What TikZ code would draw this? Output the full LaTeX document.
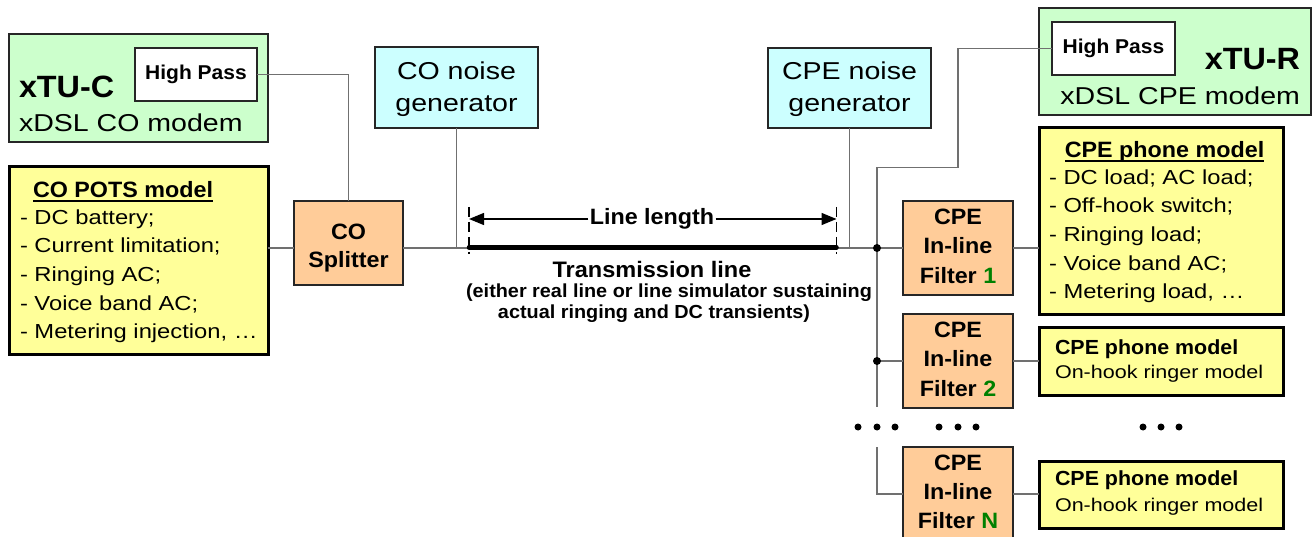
\documentclass[tikz,border=0pt]{standalone}
\usepackage{fontspec}
\newfontfamily\rgf{Liberation Sans}[FakeStretch=1.17]
\newfontfamily\bdf{Liberation Sans}[FakeStretch=1.05]
\newcommand{\fR}[1]{\rgf\fontsize{#1}{#1}\selectfont}
\newcommand{\fB}[1]{\bdf\bfseries\fontsize{#1}{#1}\selectfont}
\usetikzlibrary{arrows.meta}
\definecolor{gfill}{HTML}{CCFFCC}
\definecolor{cfill}{HTML}{CCFFFF}
\definecolor{ofill}{HTML}{FFCC99}
\definecolor{yfill}{HTML}{FFFF99}
\definecolor{wire}{HTML}{707070}
\definecolor{dgreen}{HTML}{008000}
\tikzset{
  thinbox/.style={draw=black!85, line width=1.3pt, inner sep=0pt, outer sep=0pt},
  gbox/.style={thinbox, fill=gfill},
  cbox/.style={thinbox, fill=cfill},
  obox/.style={thinbox, fill=ofill},
  wbox/.style={thinbox, fill=white},
  ybox/.style={draw=black, line width=3pt, fill=yfill, inner sep=0pt, outer sep=0pt},
  txt/.style={inner sep=0pt, outer sep=0pt},
  wireline/.style={draw=wire, line width=1.3pt},
  jdot/.style={circle, fill=black, inner sep=0pt, minimum size=8pt},
  edot/.style={circle, fill=black, inner sep=0pt, minimum size=7pt},
  arr/.style={line width=1.3pt, -{Triangle[length=15pt,width=12pt]}},
  tick/.style={line width=1.3pt, dash pattern=on 10pt off 5pt},
}
\begin{document}
\begin{tikzpicture}[x=1pt,y=-1pt]
\useasboundingbox (0,0) rectangle (1316,537);

% ---------- boxes ----------
\node[gbox, minimum width=259pt, minimum height=108pt] (xtuc) at (138.5,88) {};
\node[wbox, minimum width=122pt, minimum height=53pt] (hpC) at (196,74.5) {\fB{20}High Pass};
\node[txt, anchor=base west] (xtuct) at (19,98) {\fB{30.8}xTU-C};
\node[txt, anchor=base west] (xtucs) at (19,132) {\fR{24.4}xDSL CO modem};

\node[ybox, minimum width=259pt, minimum height=187pt] (pots) at (138.5,260.5) {};
\node[txt, anchor=base west] (potst) at (33,198) {\fB{22.2}CO POTS model};
\draw[line width=1.8pt] ([yshift=-3pt]potst.base west) -- ([yshift=-3pt]potst.base east);
\node[txt, anchor=base west] (pots1) at (20,225) {\fR{20.3}- DC battery;};
\node[txt, anchor=base west] (pots2) at (20,253) {\fR{20.3}- Current limitation;};
\node[txt, anchor=base west] (pots3) at (20,281.5) {\fR{20.3}- Ringing AC;};
\node[txt, anchor=base west] (pots4) at (20,310) {\fR{20.3}- Voice band AC;};
\node[txt, anchor=base west] (pots5) at (20,338) {\fR{20.3}- Metering injection, \dots};

\node[obox, minimum width=109pt, minimum height=84pt] (split) at (348.5,243) {};
\node[txt, anchor=base] (splitt1) at (348.5,240) {\fB{22.2}CO};
\node[txt, anchor=base] (splitt2) at (348.5,268) {\fB{22.2}Splitter};

\node[cbox, minimum width=163pt, minimum height=81pt] (conoise) at (456.5,87.5) {};
\node[txt, anchor=base] (conoise1) at (456.5,80) {\fR{24.4}CO noise};
\node[txt, anchor=base] (conoise2) at (456.5,112) {\fR{24.4}generator};

\node[cbox, minimum width=163pt, minimum height=80pt] (cpenoise) at (849.5,88) {};
\node[txt, anchor=base] (cpenoise1) at (849.5,79.5) {\fR{24.4}CPE noise};
\node[txt, anchor=base] (cpenoise2) at (849.5,112) {\fR{24.4}generator};

\node[gbox, minimum width=272pt, minimum height=107pt] (xtur) at (1175,61.5) {};
\node[wbox, minimum width=123pt, minimum height=53pt] (hpR) at (1113.5,48.5) {\fB{20}High Pass};
\node[txt, anchor=base east] (xturt) at (1300,70) {\fB{30.8}xTU-R};
\node[txt, anchor=base east] (xturs) at (1300,105) {\fR{24.4}xDSL CPE modem};

% filters
\node[obox, minimum width=110pt, minimum height=94pt] (f1) at (958,248) {};
\node[txt, anchor=base] (f1a) at (958,225) {\fB{22.2}CPE};
\node[txt, anchor=base] (f1b) at (958,253.5) {\fB{22.2}In-line};
\node[txt, anchor=base] (f1c) at (958,283) {\fB{22.2}Filter \textcolor{dgreen}{1}};

\node[obox, minimum width=110pt, minimum height=94pt] (f2) at (958,361) {};
\node[txt, anchor=base] (f2a) at (958,337.5) {\fB{22.2}CPE};
\node[txt, anchor=base] (f2b) at (958,366) {\fB{22.2}In-line};
\node[txt, anchor=base] (f2c) at (958,396) {\fB{22.2}Filter \textcolor{dgreen}{2}};

\node[obox, minimum width=110pt, minimum height=94pt] (fN) at (958,494) {};
\node[txt, anchor=base] (fNa) at (958,470) {\fB{22.2}CPE};
\node[txt, anchor=base] (fNb) at (958,499) {\fB{22.2}In-line};
\node[txt, anchor=base] (fNc) at (958,528) {\fB{22.2}Filter \textcolor{dgreen}{N}};

% phone models
\node[ybox, minimum width=244pt, minimum height=186pt] (ph1) at (1161,221) {};
\node[txt, anchor=base] (ph1t) at (1164.5,158) {\fB{22.2}CPE phone model};
\draw[line width=1.8pt] ([yshift=-3pt]ph1t.base west) -- ([yshift=-3pt]ph1t.base east);
\node[txt, anchor=base west] (ph1a) at (1049,185) {\fR{20.3}- DC load; AC load;};
\node[txt, anchor=base west] (ph1b) at (1049,213) {\fR{20.3}- Off-hook switch;};
\node[txt, anchor=base west] (ph1c) at (1049,241.5) {\fR{20.3}- Ringing load;};
\node[txt, anchor=base west] (ph1d) at (1049,270) {\fR{20.3}- Voice band AC;};
\node[txt, anchor=base west] (ph1e) at (1049,298) {\fR{20.3}- Metering load, \dots};

\node[ybox, minimum width=244pt, minimum height=68pt] (ph2) at (1161,361) {};
\node[txt, anchor=base west] (ph2a) at (1055,354) {\fB{20.4}CPE phone model};
\node[txt, anchor=base west] (ph2b) at (1055,378) {\fR{18.4}On-hook ringer model};

\node[ybox, minimum width=244pt, minimum height=67pt] (phN) at (1161,494.5) {};
\node[txt, anchor=base west] (phNa) at (1055,485) {\fB{20.4}CPE phone model};
\node[txt, anchor=base west] (phNb) at (1055,511) {\fR{18.4}On-hook ringer model};

% ---------- coordinates ----------
\coordinate (mainy) at (0,248);
\coordinate (kinkA) at (958,167.5);
\coordinate (busTop) at (877,167.5);
\coordinate (busBot) at (877,407);
\coordinate (busN) at (877,447);
\coordinate (tlL) at (469,247.5);
\coordinate (tlR) at (836.5,247.5);
\coordinate (tkLt) at (469,207);
\coordinate (tkLb) at (469,254);
\coordinate (tkRt) at (836.5,207);
\coordinate (tkRb) at (836.5,254);
\coordinate (arL) at (469,219);
\coordinate (arR) at (836.5,219);

% ---------- wires ----------
\draw[wireline] (hpC.east) -| (split.north);
\draw[wireline] (pots.east |- mainy) -- (split.west |- mainy);
\draw[wireline] (split.east |- mainy) -- (f1.west);
\draw[wireline] (conoise.south) -- (conoise.south |- mainy);
\draw[wireline] (cpenoise.south) -- (cpenoise.south |- mainy);
\draw[wireline] (hpR.west) -| (kinkA) -- (busTop) -- (busBot);
\draw[wireline] (busTop |- f2.west) -- (f2.west);
\draw[wireline] (busN) |- (fN.west);
\draw[wireline] (f1.east) -- (f1.east -| ph1.west);
\draw[wireline] (f2.east) -- (ph2.west);
\draw[wireline] (fN.east) -- (fN.east -| phN.west);

\node[jdot] (j1) at (busTop |- mainy) {};
\node[jdot] (j2) at (busTop |- f2.west) {};

% ---------- transmission line ----------
\draw[line width=4.5pt, line cap=round] (tlL) -- (tlR);
\draw[tick] (tkLt) -- (tkLb);
\draw[tick] (tkRt) -- (tkRb);
\node[txt, inner sep=1.5pt] (ll) at (652,219) {\fB{22.2}Line length};
\draw[arr] (ll.west) -- (arL);
\draw[arr] (ll.east) -- (arR);
\node[txt, anchor=base] (tl1) at (652,277) {\fB{22.4}Transmission line};
\node[txt, anchor=base] (tl2) at (669,297.5) {\fB{18.9}(either real line or line simulator sustaining};
\node[txt, anchor=base] (tl3) at (654,318.5) {\fB{18.9}actual ringing and DC transients)};

% ---------- ellipsis dots ----------
\foreach \i/\xx in {1/858,2/877,3/895,4/939,5/958,6/976,7/1143,8/1161,9/1179}{
  \node[edot] (e\i) at (\xx,427) {};
}
\end{tikzpicture}
\end{document}
